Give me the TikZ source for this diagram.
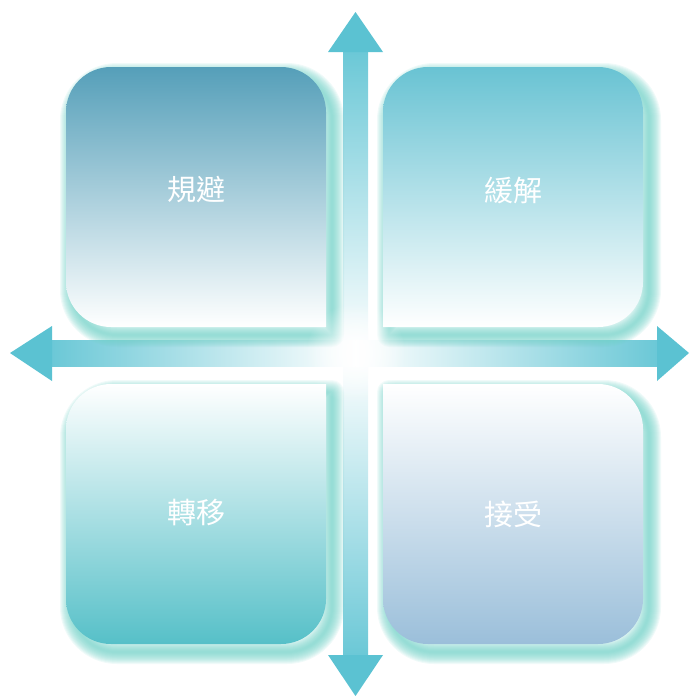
\documentclass[tikz,border=0pt]{standalone}
\usepackage{fontspec}
\newfontfamily\cjk{Noto Sans CJK TC}
\usetikzlibrary{fadings}
\definecolor{arrowteal}{HTML}{5BC2D2}
\definecolor{glowteal}{HTML}{6FD0C6}
\definecolor{avoidtop}{HTML}{559FB9}
\definecolor{mitigatetop}{HTML}{69C3D3}
\definecolor{transferbot}{HTML}{56C0C8}
\definecolor{acceptbot}{HTML}{9BBFDA}
\tikzfading[name=centrefade, inner color=transparent!0, outer color=transparent!100]
\tikzset{
	glow/.style = {draw=glowteal, draw opacity=0.1, line join=round, line cap=round},
	quadtext/.style = {text=white, font=\cjk\fontsize{29}{32}\selectfont, inner sep=0pt},
}

\begin{document}
\begin{tikzpicture}[x=1pt, y=-1pt]
		\useasboundingbox (0,0) rectangle (689,696);
		% arrow shafts, fading to white at the crossing
		\shade[top color=arrowteal!90, bottom color=white] (343,52) rectangle (368,353);
		\shade[top color=white, bottom color=arrowteal!90] (343,353) rectangle (368,655);
		\shade[left color=arrowteal!90, right color=white] (52,340) rectangle (355.5,366);
		\shade[left color=white, right color=arrowteal!90] (355.5,340) rectangle (657,366);
		% arrow heads
		\fill[arrowteal] (355.5,12) -- (383,52) -- (328,52) -- cycle;
		\fill[arrowteal] (355.5,696) -- (383,655) -- (328,655) -- cycle;
		\fill[arrowteal] (10,353) -- (52,326) -- (52,381) -- cycle;
		\fill[arrowteal] (689,353) -- (657,326) -- (657,381) -- cycle;
		% glow behind the four boxes (i = sharp inner corner, o = outer corner)
		\foreach \ix/\iy/\ox/\oy in {326/327/66/67, 383/327/643/67, 326/384/66/644, 383/384/643/644}{
			\begin{scope}[shift={(6,8)}]
				\foreach \w in {2,4,...,24}
					\path[glow, line width=\w] (\ix,\iy) [rounded corners=45] -- (\ox,\iy) -- (\ox,\oy) -- (\ix,\oy) -- (\ix,\iy);
			\end{scope}
		}
		\fill[white, path fading=centrefade] (355.5,353) circle (50);
		% the four boxes, one sharp corner each towards the centre
		\foreach \ix/\iy/\ox/\oy/\ctop/\cbot in {326/327/66/67/avoidtop/white, 383/327/643/67/mitigatetop/white, 326/384/66/644/white/transferbot, 383/384/643/644/white/acceptbot}
			\shade[top color=\ctop, bottom color=\cbot] (\ix,\iy) [rounded corners=45] -- (\ox,\iy) -- (\ox,\oy) -- (\ix,\oy) -- (\ix,\iy);
		\node[quadtext] (avoid) at (196,190) {規避};
		\node[quadtext] (mitigate) at (513,190) {緩解};
		\node[quadtext] (transfer) at (196,513) {轉移};
		\node[quadtext] (accept) at (513,514) {接受};
	\end{tikzpicture}
\end{document}
